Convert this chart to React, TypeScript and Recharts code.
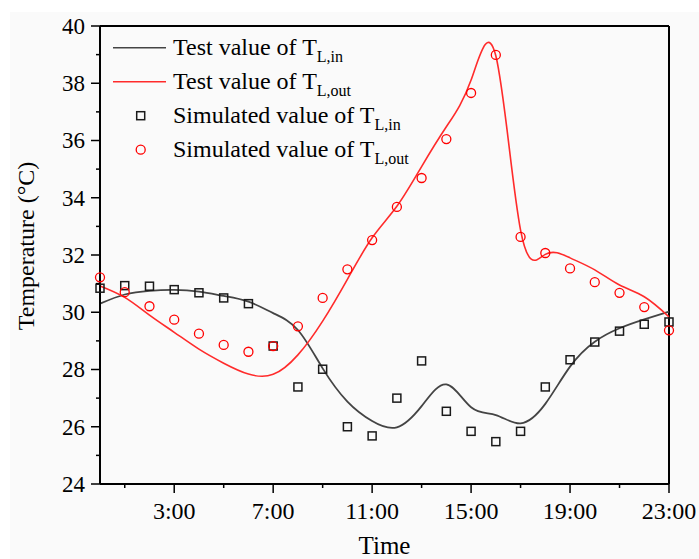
import { ComposedChart, Line, Scatter, XAxis, YAxis, ReferenceLine, Legend } from "recharts";

const hours = [0, 1, 2, 3, 4, 5, 6, 7, 8, 9, 10, 11, 12, 13, 14, 15, 16, 17, 18, 19, 20, 21, 22, 23];
const testIn = [30.3, 30.62, 30.75, 30.78, 30.72, 30.57, 30.37, 29.97, 29.38, 28.04, 26.88, 26.2, 25.98, 26.72, 27.48, 26.68, 26.41, 26.12, 26.8, 28.1, 28.97, 29.44, 29.75, 30.02];
const testOut = [30.92, 30.52, 29.9, 29.3, 28.71, 28.22, 27.84, 27.83, 28.51, 29.69, 31.15, 32.6, 33.7, 35.09, 36.48, 38.11, 38.96, 32.87, 32.02, 31.9, 31.48, 30.95, 30.54, 29.84];
const simIn = [30.84, 30.93, 30.91, 30.79, 30.68, 30.5, 30.3, 28.82, 27.39, 28.01, 26.0, 25.68, 27.0, 28.3, 26.54, 25.84, 25.48, 25.84, 27.39, 28.34, 28.96, 29.34, 29.58, 29.66];
const simOut = [31.22, 30.7, 30.21, 29.74, 29.25, 28.86, 28.62, 28.82, 29.51, 30.5, 31.5, 32.52, 33.68, 34.69, 36.05, 37.66, 38.99, 32.63, 32.07, 31.53, 31.05, 30.68, 30.18, 29.37];

const xTicks = [1, 3, 5, 7, 9, 11, 13, 15, 17, 19, 21, 23];
const yTicks = [24, 25, 26, 27, 28, 29, 30, 31, 32, 33, 34, 35, 36, 37, 38, 39, 40];

const data = hours.map((h, i) => ({
  hour: h,
  testIn: testIn[i],
  testOut: testOut[i],
  simIn: simIn[i],
  simOut: simOut[i],
}));

const FONT = '"Liberation Serif", "Times New Roman", serif';
const GRAY = "#444444";
const RED = "#ff2b2b";

const XTick = (props: any) => {
  const { x, y, payload } = props;
  const major = payload.value % 4 === 3;
  return (
    <g>
      <line x1={x} x2={x} y1={y} y2={y + (major ? 9 : 4)} stroke="#000" strokeWidth={1.5} />
      {major && (
        <text x={x} y={y + 35} textAnchor="middle" fontSize={24} fontFamily={FONT} fill="#000">
          {payload.value + ":00"}
        </text>
      )}
    </g>
  );
};

const YTick = (props: any) => {
  const { x, y, payload } = props;
  const major = payload.value % 2 === 0;
  return (
    <g>
      <line x1={x} x2={x - (major ? 9 : 4)} y1={y} y2={y} stroke="#000" strokeWidth={1.5} />
      {major && (
        <text x={x - 15} y={y} dy="0.34em" textAnchor="end" fontSize={23} fontFamily={FONT} fill="#000">
          {payload.value}
        </text>
      )}
    </g>
  );
};

const Square = (props: any) => {
  const { cx, cy } = props;
  return <rect x={cx - 4} y={cy - 4} width={8} height={8} fill="none" stroke="#1a1a1a" strokeWidth={1.5} />;
};

const Circle = (props: any) => {
  const { cx, cy } = props;
  return <circle cx={cx} cy={cy} r={4.5} fill="none" stroke="#ff0000" strokeWidth={1.3} />;
};

const LegendBox = () => {
  const rows = [
    { kind: "line", color: GRAY, sub: "L,in" },
    { kind: "line", color: RED, sub: "L,out" },
    { kind: "square", color: "#1a1a1a", sub: "L,in" },
    { kind: "circle", color: "#ff0000", sub: "L,out" },
  ];
  return (
    <svg width={320} height={150} style={{ display: "block" }}>
      {rows.map((r, i) => {
        const cy = 21.7 + i * 34;
        const label = r.kind === "line" ? "Test value of T" : "Simulated value of T";
        return (
          <g key={i}>
            {r.kind === "line" && <line x1={13} x2={66} y1={cy} y2={cy} stroke={r.color} strokeWidth={1.6} />}
            {r.kind === "square" && (
              <rect x={36.7} y={cy - 4} width={8} height={8} fill="none" stroke={r.color} strokeWidth={1.5} />
            )}
            {r.kind === "circle" && <circle cx={40.7} cy={cy} r={4.5} fill="none" stroke={r.color} strokeWidth={1.3} />}
            <text x={73} y={cy + 7} fontSize={24} fontFamily={FONT} fill="#000">
              {label}
              <tspan fontSize={16} dy={7}>
                {r.sub}
              </tspan>
            </text>
          </g>
        );
      })}
    </svg>
  );
};

export default function App() {
  return (
    <div style={{ position: "absolute", left: 0, top: 0, width: 699, height: 559, background: "#fff" }}>
      <div style={{ position: "absolute", left: 10, top: 12, width: 689, height: 547, background: "#fafafa" }} />
      <div style={{ position: "absolute", left: 0, top: 0 }}>
        <ComposedChart width={699} height={559} data={data} margin={{ top: 26, right: 30, bottom: 0, left: 0 }}>
          <XAxis
            dataKey="hour"
            type="number"
            domain={[0, 23]}
            ticks={xTicks}
            interval={0}
            height={75}
            tickSize={0}
            tickMargin={0}
            tickLine={false}
            tick={<XTick />}
            axisLine={{ stroke: "#000", strokeWidth: 2 }}
            label={{
              content: (p: any) => {
                const vb = p.viewBox;
                return (
                  <text x={vb.x + vb.width / 2} y={vb.y + 70} textAnchor="middle" fontSize={25} fontFamily={FONT} fill="#000">
                    Time
                  </text>
                );
              },
            }}
          />
          <YAxis
            type="number"
            domain={[24, 40]}
            ticks={yTicks}
            interval={0}
            width={100}
            tickSize={0}
            tickMargin={0}
            tickLine={false}
            tick={<YTick />}
            axisLine={{ stroke: "#000", strokeWidth: 2 }}
            label={{
              content: (p: any) => {
                const vb = p.viewBox;
                const x = vb.x + 34;
                const y = vb.y + vb.height / 2 - 9;
                return (
                  <text x={x} y={y} transform={`rotate(-90, ${x}, ${y})`} textAnchor="middle" fontSize={24} fontFamily={FONT} fill="#000">
                    Temperature (°C)
                  </text>
                );
              },
            }}
          />
          <ReferenceLine y={40} stroke="#000" strokeWidth={2} />
          <ReferenceLine x={23} stroke="#000" strokeWidth={2} />
          <Line type="natural" dataKey="testIn" stroke={GRAY} strokeWidth={1.8} dot={false} isAnimationActive={false} />
          <Line type="natural" dataKey="testOut" stroke={RED} strokeWidth={1.6} dot={false} isAnimationActive={false} />
          <Scatter dataKey="simIn" shape={<Square />} isAnimationActive={false} />
          <Scatter dataKey="simOut" shape={<Circle />} isAnimationActive={false} />
          <Legend
            layout="vertical"
            align="center"
            verticalAlign="middle"
            content={<LegendBox />}
            wrapperStyle={{ left: 100, top: 26, width: 320, height: 150 }}
          />
        </ComposedChart>
      </div>
    </div>
  );
}
